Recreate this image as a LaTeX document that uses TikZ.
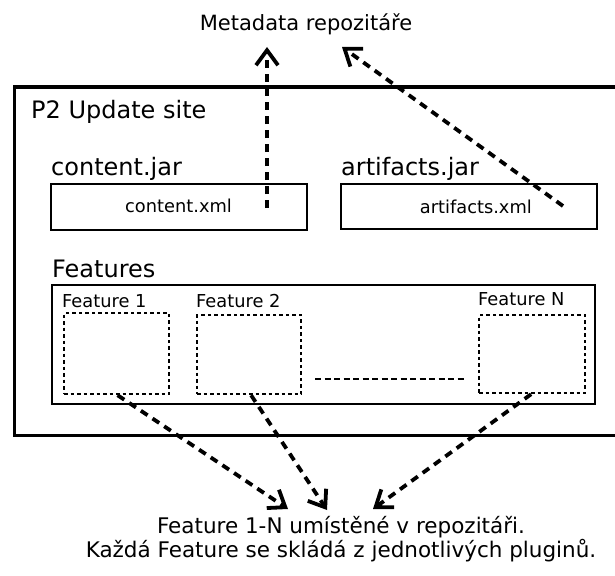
\documentclass[tikz,border=0pt]{standalone}
\usepackage{fontspec}
\setmainfont{DejaVu Sans}
\usetikzlibrary{arrows.meta}
\begin{document}
\begin{tikzpicture}[x=1pt,y=-1pt,
 bigtxt/.style={font=\fontsize{24}{28}\selectfont, inner sep=0pt, anchor=base west},
 smalltxt/.style={font=\fontsize{17.8}{20}\selectfont, inner sep=0pt, anchor=base west},
 captxt/.style={font=\fontsize{21.5}{24}\selectfont, inner sep=0pt, align=center},
 solidbox/.style={draw, line width=2.2pt, inner sep=0pt, anchor=north west},
 dotbox/.style={draw, line width=2.2pt, dash pattern=on 3.5pt off 3pt, inner sep=0pt, anchor=north west},
 flow/.style={line width=3.8pt, dash pattern=on 8pt off 6pt, -{Straight Barb[length=15pt,width=22pt]}},
]
\useasboundingbox (0,0) rectangle (615,575);
\clip (0,0) rectangle (615,575);

% outer update site box
\node[draw, line width=3.4pt, anchor=north west, minimum width=615pt, minimum height=348pt] (site) at (12.5,85.5) {};
\node[bigtxt] (sitelbl) at (31,118) {P2 Update site};

% content.jar
\node[bigtxt] (cjar) at (51,175) {content.jar};
\node[solidbox, minimum width=256pt, minimum height=46pt] (cbox) at (50,183) {};
\node[smalltxt] (cxml) at (125,212) {content.xml};

% artifacts.jar
\node[bigtxt] (ajar) at (341,175) {artifacts.jar};
\node[solidbox, minimum width=256pt, minimum height=45pt] (abox) at (340,183) {};
\node[smalltxt, anchor=base east] (axml) at (532,213) {artifacts.xml};

% features
\node[bigtxt] (flbl) at (52,277) {Features};
\node[solidbox, minimum width=543pt, minimum height=119pt] (fbox) at (51,284) {};

\node[smalltxt] (f1lbl) at (62,307) {Feature 1};
\node[dotbox, minimum width=105pt, minimum height=81pt] (f1) at (63,312) {};
\node[smalltxt] (f2lbl) at (196,307) {Feature 2};
\node[dotbox, minimum width=104pt, minimum height=79pt] (f2) at (196,314) {};
\node[smalltxt] (fnlbl) at (478,305) {Feature N};
\node[dotbox, minimum width=106pt, minimum height=78pt] (fn) at (478,314) {};

\coordinate (dl) at (315,379);
\coordinate (dr) at (465,379);
\draw[line width=2.2pt, dash pattern=on 6pt off 3.5pt] (dl) -- (dr);

% metadata
\node[captxt, font=\fontsize{21}{24}\selectfont, anchor=base] (meta) at (306,31) {Metadata repozitáře};
\coordinate (cstart) at (267,208);
\coordinate (cend) at (267,47);
\coordinate (astart) at (563,206);
\coordinate (aend) at (342,47);
\draw[flow] (cstart) -- (cend);
\draw[flow] (astart) -- (aend);

% result
\node[captxt, anchor=base] (result) at (341,557) {Feature 1-N umístěné v repozitáři.\\Každá Feature se skládá z jednotlivých pluginů.};
\coordinate (t1) at (288,509);
\coordinate (t2) at (327,510);
\coordinate (tn) at (373,509);
\draw[flow] (f1.south) ++(1,0) -- (t1);
\draw[flow] (f2.south) ++(2,0) -- (t2);
\draw[flow] (fn.south) ++(-1,0) -- (tn);
\end{tikzpicture}
\end{document}
